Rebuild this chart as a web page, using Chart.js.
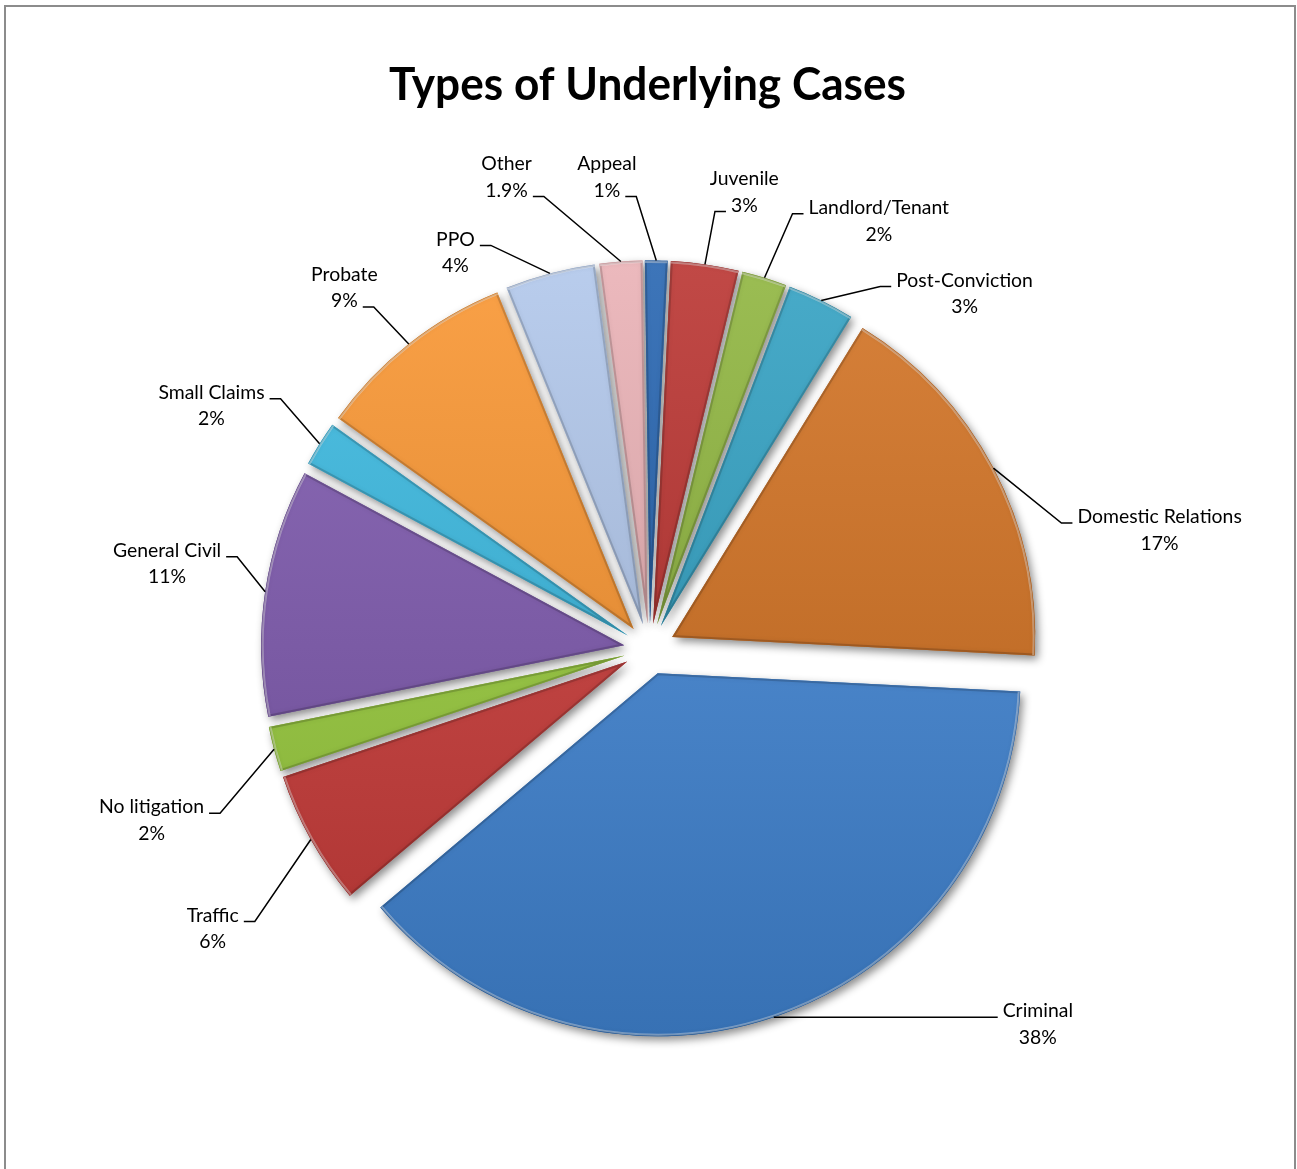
<!DOCTYPE html>
<html>
<head>
<meta charset="utf-8">
<title>Types of Underlying Cases</title>
<script src="https://cdn.jsdelivr.net/npm/chart.js@4.4.1/dist/chart.umd.min.js"></script>
<style>
  html, body { margin: 0; padding: 0; background: #fff; }
  canvas { display: block; }
</style>
</head>
<body>
<canvas id="chart" width="1297" height="1169"></canvas>
<script>
'use strict';

const chartTitle = 'Types of Underlying Cases';
const categories = ['Juvenile', 'Landlord/Tenant', 'Post-Conviction', 'Domestic Relations', 'Criminal',
    'Traffic', 'No litigation', 'General Civil', 'Small Claims', 'Probate', 'PPO', 'Other', 'Appeal'];
const shares = [3, 2, 3, 17, 38, 6, 2, 11, 2, 9, 4, 1.9, 1];
const sliceColors = ['#b8302d', '#8db43c', '#2fa0c2', '#d2701f', '#4287d6', '#cc3c39', '#9bce3e',
    '#7d58ae', '#38b9e0', '#f9942e', '#b0c6ea', '#e9b0b4', '#2362b0'];

// label layout: bend of each leader line relative to the slice's outer midpoint,
// and which text line the leader runs into (0 = name, 1 = percent)
const leaderBend = [[10, -53], [28, -64], [59, -14], [68, 55], [213, 0], [-56, 82], [-54, 64],
    [-28, -35], [-39, -45], [-35, -37], [-59, -28], [-77, -65], [-20, -64]];
const leaderAttach = [1, 0, 0, 0, 0, 0, 0, 0, 0, 1, 0, 1, 1];

const PIE_RADIUS = 363;
const EXPLODE = 25.6;
const LABEL_FONT = '19.4px Lato';
const LINE_GAP = 26.5;

function shade(hex, amt) {
    const n = parseInt(hex.slice(1), 16);
    const target = amt < 0 ? 0 : 255;
    const p = Math.abs(amt);
    const mix = (c) => Math.round(c + (target - c) * p);
    return 'rgb(' + mix(n >> 16) + ',' + mix((n >> 8) & 255) + ',' + mix(n & 255) + ')';
}

function slicePath(ctx, arc) {
    ctx.beginPath();
    ctx.moveTo(arc.x, arc.y);
    ctx.arc(arc.x, arc.y, arc.outerRadius, arc.startAngle, arc.endAngle);
    ctx.closePath();
}

const frame = {
    id: 'frame',
    beforeDraw(chart) {
        const ctx = chart.ctx;
        ctx.save();
        ctx.fillStyle = '#fff';
        ctx.fillRect(0, 0, chart.width, chart.height);
        ctx.strokeStyle = '#8c8c8c';
        ctx.lineWidth = 2;
        ctx.strokeRect(5, 6, 1290, 1200);
        ctx.restore();
    },
    afterDraw(chart) {
        const ctx = chart.ctx;
        ctx.save();
        ctx.font = 'bold 46px Lato';
        const w = ctx.measureText(chartTitle).width;
        ctx.translate(647.5, 100);
        ctx.scale(517 / w, 1);
        ctx.fillStyle = '#000';
        ctx.textAlign = 'center';
        ctx.textBaseline = 'alphabetic';
        ctx.fillText(chartTitle, 0, 0);
        ctx.restore();
    }
};

// every slice is pulled out from the centre; shadows go down first, then the
// faces, each with a soft darkened rim and a light edge along the arc
const explodedSlices = {
    id: 'explodedSlices',
    beforeDatasetDraw(chart, args) {
        const ctx = chart.ctx;
        const arcs = args.meta.data;
        ['shadow', 'face'].forEach((pass) => {
            arcs.forEach((arc) => {
                const mid = (arc.startAngle + arc.endAngle) / 2;
                ctx.save();
                ctx.translate(Math.cos(mid) * EXPLODE, Math.sin(mid) * EXPLODE);
                if (pass === 'shadow') {
                    ctx.shadowColor = 'rgba(0,0,0,0.45)';
                    ctx.shadowBlur = 8;
                    ctx.shadowOffsetX = 3;
                    ctx.shadowOffsetY = 4;
                    arc.draw(ctx);
                } else {
                    arc.draw(ctx);
                    slicePath(ctx, arc);
                    ctx.clip();
                    ctx.shadowColor = 'rgba(0,0,0,0.35)';
                    ctx.shadowBlur = 5;
                    ctx.strokeStyle = 'rgba(0,0,0,0.16)';
                    ctx.lineWidth = 4;
                    ctx.lineJoin = 'round';
                    slicePath(ctx, arc);
                    ctx.stroke();
                    ctx.shadowColor = 'transparent';
                    ctx.beginPath();
                    ctx.arc(arc.x, arc.y, arc.outerRadius - 1.5, arc.startAngle, arc.endAngle);
                    ctx.strokeStyle = 'rgba(255,255,255,0.35)';
                    ctx.lineWidth = 2;
                    ctx.stroke();
                }
                ctx.restore();
            });
        });
        return false;
    }
};

const sliceLabels = {
    id: 'sliceLabels',
    afterDatasetsDraw(chart) {
        const ctx = chart.ctx;
        const arcs = chart.getDatasetMeta(0).data;
        ctx.save();
        ctx.font = LABEL_FONT;
        ctx.fillStyle = '#000';
        ctx.strokeStyle = '#000';
        ctx.lineWidth = 1.5;
        ctx.textBaseline = 'middle';
        ctx.textAlign = 'center';
        arcs.forEach((arc, i) => {
            const mid = (arc.startAngle + arc.endAngle) / 2;
            const r = arc.outerRadius + EXPLODE;
            const ox = arc.x + Math.cos(mid) * r;
            const oy = arc.y + Math.sin(mid) * r;
            const ex = ox + leaderBend[i][0];
            const ey = oy + leaderBend[i][1];
            const side = leaderBend[i][0] >= 0 ? 1 : -1;
            const hx = ex + side * 11;

            ctx.beginPath();
            ctx.moveTo(ox, oy);
            ctx.lineTo(ex, ey);
            ctx.lineTo(hx, ey);
            ctx.stroke();

            const lines = [categories[i], shares[i] + '%'];
            const a = leaderAttach[i];
            const wa = ctx.measureText(lines[a]).width;
            const cx = hx + side * (5 + wa / 2);
            const ya = ey - 6;
            const y0 = a === 0 ? ya : ya - LINE_GAP;
            ctx.fillText(lines[0], cx, y0);
            ctx.fillText(lines[1], cx, y0 + LINE_GAP);
        });
        ctx.restore();
    }
};

const ctx = document.getElementById('chart').getContext('2d');

new Chart(ctx, {
    type: 'pie',
    data: {
        labels: categories,
        datasets: [{
            data: shares,
            backgroundColor: (c) => {
                const base = sliceColors[c.dataIndex];
                const area = c.chart.chartArea;
                if (!area) return base;
                const cy = (area.top + area.bottom) / 2;
                const g = c.chart.ctx.createLinearGradient(0, cy - PIE_RADIUS, 0, cy + PIE_RADIUS);
                g.addColorStop(0, shade(base, 0.12));
                g.addColorStop(1, shade(base, -0.16));
                return g;
            },
            borderWidth: 0
        }]
    },
    options: {
        responsive: false,
        animation: false,
        rotation: 2.8,
        radius: PIE_RADIUS,
        layout: {
            padding: { left: 12, right: 10, top: 140, bottom: 11 }
        },
        plugins: {
            legend: { display: false },
            title: { display: false },
            tooltip: { enabled: false }
        }
    },
    plugins: [frame, explodedSlices, sliceLabels]
});
</script>
</body>
</html>
